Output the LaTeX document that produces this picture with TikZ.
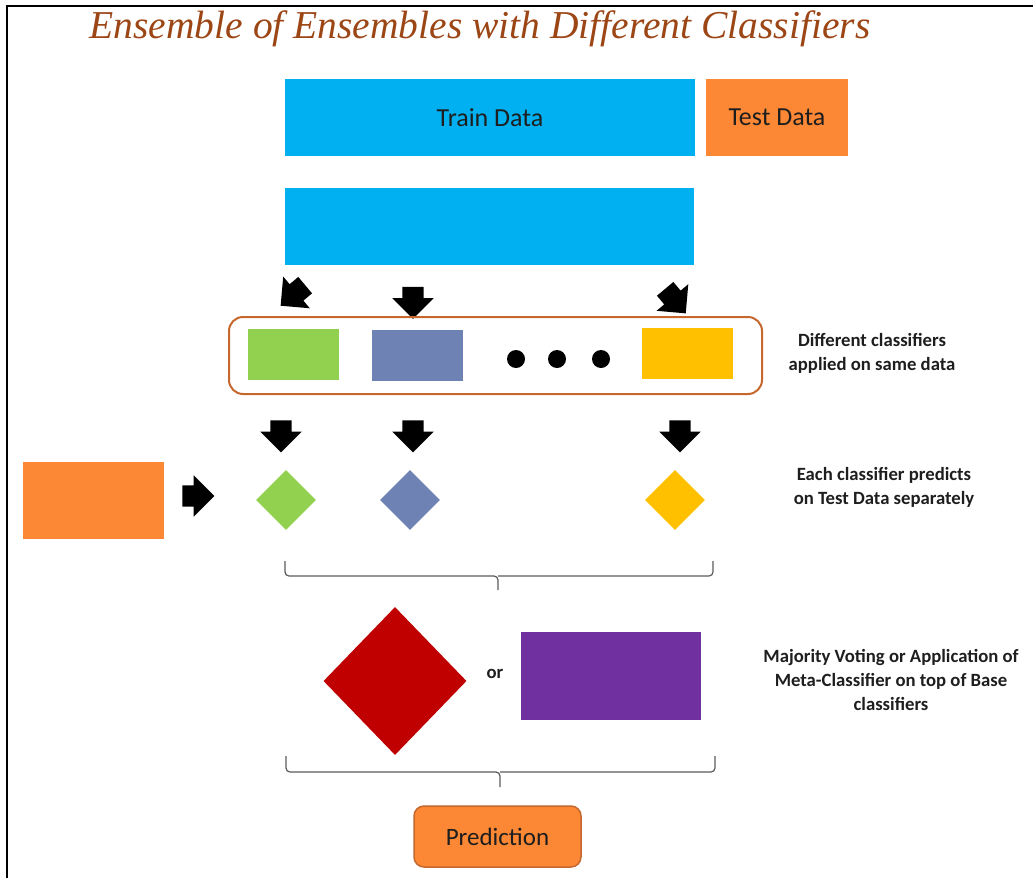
\documentclass[tikz,border=0pt]{standalone}
\usepackage{fontspec}
\setmainfont{Carlito}
\newfontfamily\titlefont{Liberation Serif}
\usetikzlibrary{shapes.geometric,shapes.arrows}
\definecolor{cyanbox}{HTML}{00B0F0}
\definecolor{orangebox}{RGB}{252,136,53}
\definecolor{orangeline}{RGB}{196,104,46}
\definecolor{greenbox}{HTML}{92D050}
\definecolor{bluebox}{RGB}{110,131,180}
\definecolor{yellowbox}{HTML}{FFC000}
\definecolor{redbox}{HTML}{C00000}
\definecolor{purplebox}{HTML}{7030A0}
\definecolor{titlebrown}{RGB}{156,70,22}
\definecolor{bracegray}{RGB}{90,90,90}
\definecolor{textdark}{RGB}{30,30,30}
\tikzset{
  databox/.style={rectangle, inner sep=0pt, text=textdark, font=\fontsize{26}{30}\selectfont},
  clfbox/.style={rectangle, inner sep=0pt, minimum width=91pt, minimum height=51pt},
  smalldia/.style={diamond, inner sep=0pt, minimum width=60pt, minimum height=60pt},
  blockarrow/.style={single arrow, fill=black, inner xsep=0pt, inner ysep=10.5pt, minimum height=32pt,
    minimum width=41pt, single arrow head extend=10pt},
  note/.style={align=center, text=textdark, font=\bfseries\fontsize{18.7}{24}\selectfont},
  bracepath/.style={draw=bracegray, line width=1.2pt, rounded corners=4pt},
}
\begin{document}
\begin{tikzpicture}[x=1pt,y=-1pt]
  \useasboundingbox (0,0) rectangle (1033,878);
  \draw [line width=2.5pt] (7,878) -- (7,6) -- (1033,6);
  \node [text=titlebrown, font=\titlefont\itshape\fontsize{39.5}{44}\selectfont] (title) at (480,29)
    {Ensemble of Ensembles with Different Classifiers};

  % data
  \node [databox, fill=cyanbox, minimum width=410pt, minimum height=77pt] (train) at (490,117.5) {Train Data};
  \node [databox, fill=orangebox, minimum width=142pt, minimum height=77pt] (test) at (777,117.5) {Test Data};
  \node [databox, fill=cyanbox, minimum width=409pt, minimum height=77pt] (sample) at (489.5,226.5) {};

  % classifiers
  \node [blockarrow, rotate=-140] (arrA) at (297,292) {};
  \node [blockarrow, rotate=-90] (arrB) at (413,297.5) {};
  \node [blockarrow, rotate=-50] (arrC) at (672,297) {};
  \node [draw=orangeline, line width=2pt, rounded corners=14pt, minimum width=533pt,
    minimum height=77pt, inner sep=0pt] (clfs) at (495.5,355.5) {};
  \node [clfbox, fill=greenbox] (clfA) at (293.5,354.5) {};
  \node [clfbox, fill=bluebox] (clfB) at (417.5,355) {};
  \node [clfbox, fill=yellowbox] (clfC) at (687.5,353.5) {};
  \foreach \x/\n in {516/1,557/2,601/3}
    \fill (\x,359) circle (9pt) coordinate (dot\n);
  \node [note] (noteA) at (872,353) {Different classifiers\\applied on same data};

  % predictions
  \node [blockarrow, rotate=-90] (arrD) at (281,431) {};
  \node [blockarrow, rotate=-90] (arrE) at (413,431) {};
  \node [blockarrow, rotate=-90] (arrF) at (680,431) {};
  \node [databox, fill=orangebox, minimum width=141pt, minimum height=77pt] (testin) at (93.5,500.5) {};
  \node [blockarrow] (arrG) at (193,496) {};
  \node [smalldia, fill=greenbox] (predA) at (286,500) {};
  \node [smalldia, fill=bluebox] (predB) at (410,500) {};
  \node [smalldia, fill=yellowbox] (predC) at (675,500) {};
  \node [note] (noteB) at (884,487) {Each classifier predicts\\on Test Data separately};
  \draw [bracepath] (285,561) -- (285,576) -- (498,576) -- (498,590);
  \draw [bracepath] (498,576) -- (713,576) -- (713,561);

  % combination
  \node [diamond, fill=redbox, inner sep=0pt, minimum width=143pt, minimum height=148pt] (vote) at (395,681) {};
  \node [note] (or) at (495,674) {or};
  \node [rectangle, fill=purplebox, inner sep=0pt, minimum width=180pt, minimum height=88pt] (meta) at (611,676) {};
  \node [note] (noteC) at (891,680) {Majority Voting or Application of\\Meta-Classifier on top of Base\\classifiers};
  \draw [bracepath] (286,756) -- (286,772) -- (500,772) -- (500,787);
  \draw [bracepath] (500,772) -- (715,772) -- (715,756);

  \node [databox, fill=orangebox, draw=orangeline, line width=1.5pt, rounded corners=10pt,
    font=\fontsize{25}{30}\selectfont, minimum width=167pt, minimum height=61pt] (pred) at (497.5,836.5) {Prediction};
\end{tikzpicture}
\end{document}
